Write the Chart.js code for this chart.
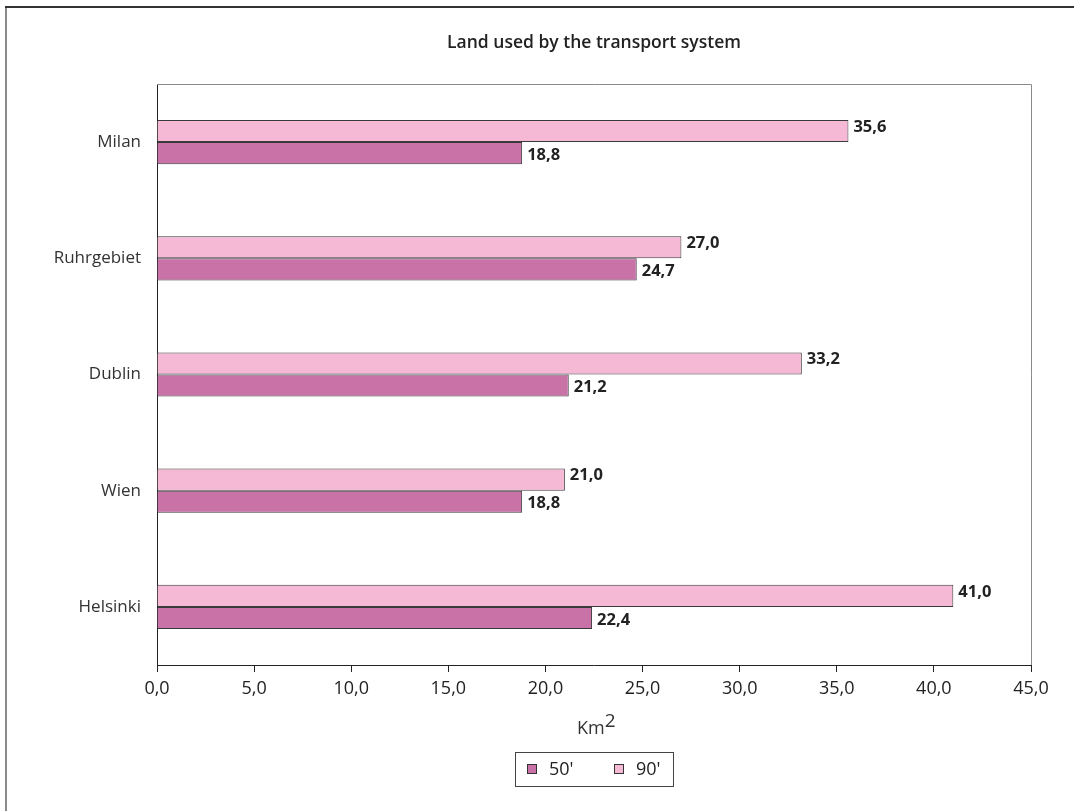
<!DOCTYPE html>
<html>
<head>
<meta charset="utf-8">
<script src="https://cdn.jsdelivr.net/npm/chart.js@4"></script>
<style>
  html, body { margin: 0; padding: 0; background: #fff; }
  canvas { display: block; }
</style>
</head>
<body>
<canvas id="landChart" width="1074" height="811"></canvas>
<script>
const cities = ['Milan', 'Ruhrgebiet', 'Dublin', 'Wien', 'Helsinki'];
const values90 = [35.6, 27.0, 33.2, 21.0, 41.0];
const values50 = [18.8, 24.7, 21.2, 18.8, 22.4];
const xTicks = [0, 5, 10, 15, 20, 25, 30, 35, 40, 45];

const FONT = '"Open Sans", sans-serif';
const comma = v => v.toFixed(1).replace('.', ',');

// outer frame, plot frame, title, axis title, legend and value labels
const decorations = {
  id: 'decorations',
  beforeDraw(chart) {
    const ctx = chart.ctx;
    ctx.save();
    ctx.fillStyle = '#fff';
    ctx.fillRect(0, 0, chart.width, chart.height);
    ctx.lineWidth = 2;
    ctx.strokeStyle = '#8a8a8a';
    ctx.beginPath(); ctx.moveTo(6, 7); ctx.lineTo(6, chart.height); ctx.stroke();
    ctx.strokeStyle = '#333';
    ctx.beginPath(); ctx.moveTo(5, 7); ctx.lineTo(chart.width, 7); ctx.stroke();
    ctx.restore();
  },
  afterDraw(chart) {
    const ctx = chart.ctx;
    const a = chart.chartArea;
    const cx = (a.left + a.right) / 2;
    ctx.save();

    // top and right edges of the plot
    ctx.strokeStyle = '#8a8a8a';
    ctx.lineWidth = 1;
    ctx.beginPath();
    ctx.moveTo(a.left, a.top + 0.5);
    ctx.lineTo(a.right + 0.5, a.top + 0.5);
    ctx.lineTo(a.right + 0.5, a.bottom);
    ctx.stroke();

    // title
    ctx.fillStyle = '#222';
    ctx.font = '600 17.5px ' + FONT;
    ctx.textAlign = 'center';
    ctx.textBaseline = 'middle';
    ctx.fillText('Land used by the transport system', cx, 43);

    // axis title Km2
    ctx.font = '18px ' + FONT;
    ctx.textAlign = 'left';
    ctx.textBaseline = 'alphabetic';
    const kmW = ctx.measureText('Km').width;
    ctx.fillStyle = '#333';
    ctx.fillText('Km', 577, 734);
    ctx.font = '19px ' + FONT;
    ctx.fillText('2', 577 + kmW, 727);

    // value labels
    ctx.font = 'bold 16.5px ' + FONT;
    ctx.fillStyle = '#222';
    ctx.textBaseline = 'middle';
    chart.data.datasets.forEach((ds, di) => {
      const meta = chart.getDatasetMeta(di);
      meta.data.forEach((bar, i) => {
        const dy = di === 0 ? -4 : 2;
        ctx.fillText(comma(ds.data[i]), bar.x + 5, bar.y + dy);
      });
    });

    // legend box, items in reverse dataset order
    const items = chart.data.datasets.slice().reverse();
    ctx.font = '18px ' + FONT;
    const boxL = 515, boxT = 752, boxW = 158, boxH = 34;
    ctx.strokeStyle = '#444';
    ctx.lineWidth = 1;
    ctx.strokeRect(boxL + 0.5, boxT + 0.5, boxW, boxH);
    let x = boxL + 12;
    const y = boxT + boxH / 2;
    items.forEach(ds => {
      ctx.fillStyle = ds.backgroundColor;
      ctx.fillRect(x, y - 5, 10, 10);
      ctx.strokeStyle = '#333';
      ctx.strokeRect(x + 0.5, y - 4.5, 9, 9);
      ctx.fillStyle = '#222';
      ctx.fillText(ds.label, x + 22, y + 1);
      x += 87;
    });
    ctx.restore();
  }
};

new Chart(document.getElementById('landChart'), {
  type: 'bar',
  data: {
    labels: cities,
    datasets: [
      {
        label: "90'",
        data: values90,
        backgroundColor: '#F5B8D5',
        borderColor: '#3a3a3a',
        borderWidth: 1,
        categoryPercentage: 0.38,
        barPercentage: 1
      },
      {
        label: "50'",
        data: values50,
        backgroundColor: '#C872A8',
        borderColor: '#3a3a3a',
        borderWidth: 1,
        categoryPercentage: 0.38,
        barPercentage: 1
      }
    ]
  },
  options: {
    indexAxis: 'y',
    responsive: false,
    animation: false,
    layout: { padding: { top: 84, right: 43, bottom: 0, left: 0 } },
    plugins: {
      legend: { display: false },
      title: { display: false },
      tooltip: { enabled: false }
    },
    scales: {
      x: {
        min: 0,
        max: 45,
        afterBuildTicks: scale => { scale.ticks = xTicks.map(v => ({ value: v })); },
        afterFit: scale => { scale.height = 811 - 665; },
        border: { display: true, color: '#222', width: 1 },
        grid: { drawOnChartArea: false, drawTicks: true, tickLength: 7, color: '#222' },
        ticks: {
          padding: 6,
          color: '#222',
          font: { family: FONT, size: 18 },
          maxRotation: 0,
          callback: v => comma(v)
        }
      },
      y: {
        afterFit: scale => { scale.width = 157; },
        border: { display: true, color: '#222', width: 1 },
        grid: { display: false },
        ticks: {
          padding: 8,
          color: '#333',
          font: { family: FONT, size: 17 }
        }
      }
    }
  },
  plugins: [decorations]
});
</script>
</body>
</html>
